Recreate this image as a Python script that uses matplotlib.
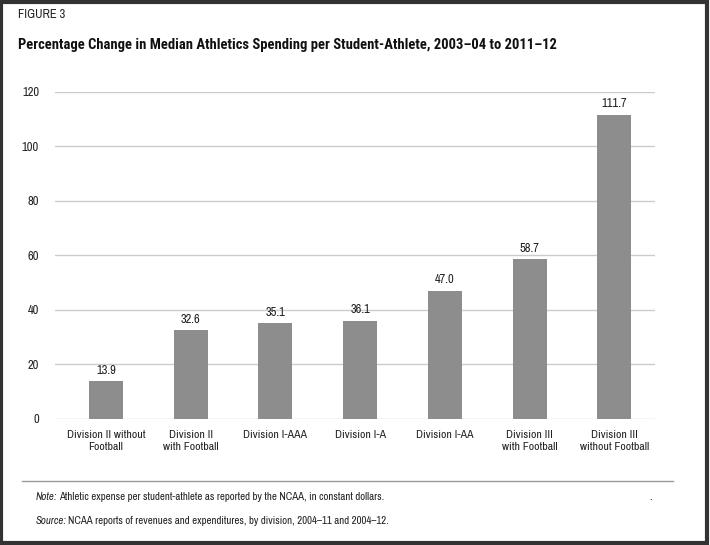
import matplotlib.pyplot as plt
from matplotlib import font_manager
from matplotlib.patches import Rectangle
from matplotlib.lines import Line2D

divisions = ['Division II without\nFootball', 'Division II\nwith Football', 'Division I-AAA',
             'Division I-A', 'Division I-AA', 'Division III\nwith Football',
             'Division III\nwithout Football']
pct_change = [13.9, 32.6, 35.1, 36.1, 47.0, 58.7, 111.7]
yticks = [0, 20, 40, 60, 80, 100, 120]

# pick condensed faces if installed (one regular, one with a real bold)
fonts = font_manager.fontManager.ttflist
wanted = ['Liberation Sans Narrow', 'Archivo Narrow', 'Roboto Condensed', 'PT Sans Narrow',
          'IBM Plex Sans Condensed', 'Fira Sans Condensed', 'Encode Sans Condensed',
          'Barlow Semi Condensed', 'Open Sans Condensed', 'Liberation Sans']
names = {f.name for f in fonts}
bold_names = {f.name for f in fonts if isinstance(f.weight, int) and f.weight >= 600
              or f.weight in ('bold', 'semibold', 'heavy', 'black')}
fam = next(n for n in wanted if n in names)
bold_fam = next(n for n in wanted if n in bold_names)
plt.rcParams['font.family'] = [fam, 'DejaVu Sans']

fig = plt.figure(figsize=(7.1, 5.45), dpi=100)
ax = fig.add_axes([0.0775, 0.2312, 0.845, 0.6000])

x = range(len(divisions))
ax.bar(x, pct_change, width=0.4, color='#8d8d8d', zorder=3)
for xi, v in zip(x, pct_change):
    ax.text(xi, v + 2, f'{v:.1f}', ha='center', va='bottom', fontsize=9, color='#222222')

ax.set_ylim(0, 120)
ax.set_xlim(-0.6, 6.48)
ax.set_yticks(yticks)
ax.set_xticks(list(x))
ax.set_xticklabels(divisions, fontsize=8.5, color='#222222', linespacing=1.25)
ax.tick_params(axis='y', labelsize=9, labelcolor='#222222', length=0, pad=11.5)
ax.tick_params(axis='x', length=0, pad=8)
ax.grid(axis='y', color='#cccccc', linewidth=1, zorder=0)
for s in ax.spines.values():
    s.set_visible(False)

fig.text(18 / 710, 1 - 15 / 545, 'FIGURE 3', fontsize=9, color='#222222', va='center')
fig.text(18 / 710, 1 - 45 / 545,
         'Percentage Change in Median Athletics Spending per Student-Athlete, 2003\u201304 to 2011\u201312',
         fontsize=10.5, fontweight='bold', family=[bold_fam, 'DejaVu Sans'],
         color='#111111', va='center')

fig.add_artist(Line2D([22 / 710, 673 / 710], [1 - 481 / 545, 1 - 481 / 545],
                      color='#999999', linewidth=1, transform=fig.transFigure))
fig.text(36 / 710, 1 - 497 / 545, 'Note:', fontsize=7.8, style='italic', color='#222222', va='center')
fig.text(59 / 710, 1 - 497 / 545,
         'Athletic expense per student-athlete as reported by the NCAA, in constant dollars.',
         fontsize=7.8, color='#222222', va='center')
fig.text(649 / 710, 1 - 497 / 545, '.', fontsize=7.8, color='#222222', va='center')
fig.text(36 / 710, 1 - 521 / 545, 'Source:', fontsize=7.8, style='italic', color='#222222', va='center')
fig.text(68 / 710, 1 - 521 / 545,
         'NCAA reports of revenues and expenditures, by division, 2004\u201311 and 2004\u201312.',
         fontsize=7.8, color='#222222', va='center')

fig.add_artist(Rectangle((0.002, 0.003), 0.994, 0.994, fill=False, edgecolor='#333333',
                         linewidth=3, transform=fig.transFigure))

fig.savefig('out.png', dpi=100)
